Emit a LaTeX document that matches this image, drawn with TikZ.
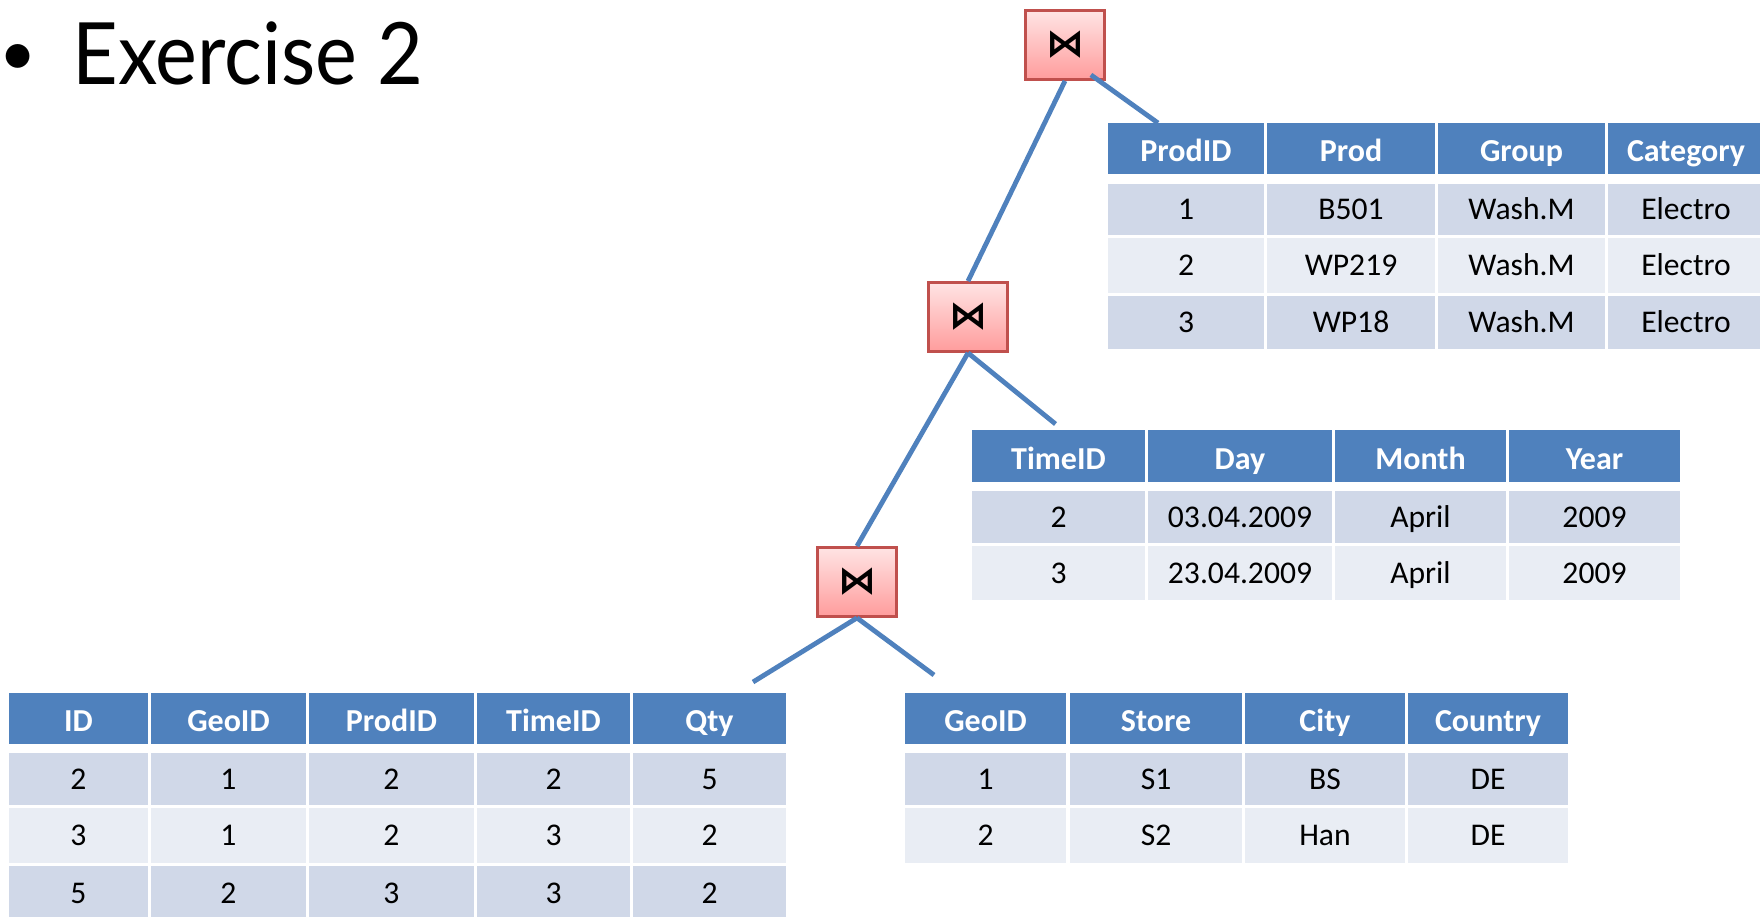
\documentclass[tikz,border=0pt]{standalone}
\usepackage{fontspec}
\setmainfont{Carlito}
\newfontfamily\titlefont[FakeStretch=0.92]{Lato}
\newfontfamily\bulletfont{Lato}
\newfontfamily\symfont{DejaVu Sans}
\usetikzlibrary{calc}
\definecolor{hdrblue}{HTML}{4F81BD}
\definecolor{rowdark}{HTML}{D0D8E8}
\definecolor{rowlight}{HTML}{E9EDF4}
\definecolor{joinborder}{HTML}{C0504D}
\definecolor{jointop}{HTML}{FFE4E4}
\definecolor{joinbot}{HTML}{FF9C9C}
\definecolor{linkblue}{HTML}{4F81BD}
\newcommand{\mkcell}[7]{%
  \node[#2, minimum width={(#4-#3)*0.5pt}, minimum height={(#6-#5)*0.5pt}] (#1) at ({(#3+#4)/2},{(#5+#6)/2}) {#7};}
\tikzset{
  cellbase/.style={rectangle, inner sep=0pt, outer sep=0pt, text depth=0pt, align=center},
  hdr/.style={cellbase, fill=hdrblue, text=white, text height=13.3pt, font=\fontsize{16pt}{19pt}\selectfont\bfseries},
  rowa/.style={cellbase, fill=rowdark, text=black, text height=10.2pt, font=\fontsize{15.8pt}{19pt}\selectfont},
  rowb/.style={cellbase, fill=rowlight, text=black, text height=10.2pt, font=\fontsize{15.8pt}{19pt}\selectfont},
  joinbox/.style={rectangle, draw=joinborder, line width=1.4pt, top color=jointop, bottom color=joinbot,
    minimum width=39.5pt, minimum height=34.5pt, inner sep=0pt, font=\symfont\bfseries\fontsize{19pt}{19pt}\selectfont},
  link/.style={draw=linkblue, line width=2.4pt},
  titletext/.style={inner sep=0pt, font=\titlefont\fontsize{43pt}{50pt}\selectfont},
  bullettext/.style={inner sep=0pt, font=\bulletfont\fontsize{32pt}{40pt}\selectfont}
}
\begin{document}
\begin{tikzpicture}[x=0.5pt, y=-0.5pt]
\useasboundingbox (0,0) rectangle (1760,916);
\fill[white] (0,0) rectangle (1760,916);
\clip (0,0) rectangle (1760,916);

% title
\node[bullettext, anchor=base] (bullet) at (18,75) {•};
\node[titletext, anchor=base west] (title) at (72,84) {Exercise 2};

% Prod table
\mkcell{p-h1}{hdr}{1108}{1264}{123}{174}{ProdID}
\mkcell{p-h2}{hdr}{1267}{1435}{123}{174}{Prod}
\mkcell{p-h3}{hdr}{1438}{1605}{123}{174}{Group}
\mkcell{p-h4}{hdr}{1608}{1764}{123}{174}{Category}
\mkcell{p-11}{rowa}{1108}{1264}{184}{235}{1}
\mkcell{p-12}{rowa}{1267}{1435}{184}{235}{B501}
\mkcell{p-13}{rowa}{1438}{1605}{184}{235}{Wash.M}
\mkcell{p-14}{rowa}{1608}{1764}{184}{235}{Electro}
\mkcell{p-21}{rowb}{1108}{1264}{238}{293}{2}
\mkcell{p-22}{rowb}{1267}{1435}{238}{293}{WP219}
\mkcell{p-23}{rowb}{1438}{1605}{238}{293}{Wash.M}
\mkcell{p-24}{rowb}{1608}{1764}{238}{293}{Electro}
\mkcell{p-31}{rowa}{1108}{1264}{296}{349}{3}
\mkcell{p-32}{rowa}{1267}{1435}{296}{349}{WP18}
\mkcell{p-33}{rowa}{1438}{1605}{296}{349}{Wash.M}
\mkcell{p-34}{rowa}{1608}{1764}{296}{349}{Electro}

% Time table
\mkcell{t-h1}{hdr}{972}{1145}{430}{482}{TimeID}
\mkcell{t-h2}{hdr}{1148}{1332}{430}{482}{Day}
\mkcell{t-h3}{hdr}{1335}{1506}{430}{482}{Month}
\mkcell{t-h4}{hdr}{1509}{1680}{430}{482}{Year}
\mkcell{t-11}{rowa}{972}{1145}{491}{543}{2}
\mkcell{t-12}{rowa}{1148}{1332}{491}{543}{03.04.2009}
\mkcell{t-13}{rowa}{1335}{1506}{491}{543}{April}
\mkcell{t-14}{rowa}{1509}{1680}{491}{543}{2009}
\mkcell{t-21}{rowb}{972}{1145}{546}{600}{3}
\mkcell{t-22}{rowb}{1148}{1332}{546}{600}{23.04.2009}
\mkcell{t-23}{rowb}{1335}{1506}{546}{600}{April}
\mkcell{t-24}{rowb}{1509}{1680}{546}{600}{2009}

% Geo table
\mkcell{g-h1}{hdr}{905}{1066}{693}{744}{GeoID}
\mkcell{g-h2}{hdr}{1070}{1242}{693}{744}{Store}
\mkcell{g-h3}{hdr}{1245}{1405}{693}{744}{City}
\mkcell{g-h4}{hdr}{1408}{1568}{693}{744}{Country}
\mkcell{g-11}{rowa}{905}{1066}{753}{805}{1}
\mkcell{g-12}{rowa}{1070}{1242}{753}{805}{S1}
\mkcell{g-13}{rowa}{1245}{1405}{753}{805}{BS}
\mkcell{g-14}{rowa}{1408}{1568}{753}{805}{DE}
\mkcell{g-21}{rowb}{905}{1066}{808}{863}{2}
\mkcell{g-22}{rowb}{1070}{1242}{808}{863}{S2}
\mkcell{g-23}{rowb}{1245}{1405}{808}{863}{Han}
\mkcell{g-24}{rowb}{1408}{1568}{808}{863}{DE}

% Fact table
\mkcell{f-h1}{hdr}{9}{148}{693}{744}{ID}
\mkcell{f-h2}{hdr}{151}{306}{693}{744}{GeoID}
\mkcell{f-h3}{hdr}{309}{474}{693}{744}{ProdID}
\mkcell{f-h4}{hdr}{477}{630}{693}{744}{TimeID}
\mkcell{f-h5}{hdr}{633}{786}{693}{744}{Qty}
\mkcell{f-11}{rowa}{9}{148}{753}{805}{2}
\mkcell{f-12}{rowa}{151}{306}{753}{805}{1}
\mkcell{f-13}{rowa}{309}{474}{753}{805}{2}
\mkcell{f-14}{rowa}{477}{630}{753}{805}{2}
\mkcell{f-15}{rowa}{633}{786}{753}{805}{5}
\mkcell{f-21}{rowb}{9}{148}{808}{863}{3}
\mkcell{f-22}{rowb}{151}{306}{808}{863}{1}
\mkcell{f-23}{rowb}{309}{474}{808}{863}{2}
\mkcell{f-24}{rowb}{477}{630}{808}{863}{3}
\mkcell{f-25}{rowb}{633}{786}{808}{863}{2}
\mkcell{f-31}{rowa}{9}{148}{866}{920}{5}
\mkcell{f-32}{rowa}{151}{306}{866}{920}{2}
\mkcell{f-33}{rowa}{309}{474}{866}{920}{3}
\mkcell{f-34}{rowa}{477}{630}{866}{920}{3}
\mkcell{f-35}{rowa}{633}{786}{866}{920}{2}

% join operators
\node[joinbox] (jtop) at (1065,45) {⋈};
\node[joinbox] (jmid) at (968,317) {⋈};
\node[joinbox] (jbot) at (857,582) {⋈};

% connectors
\draw[link] (jtop.south) -- (jmid.north);
\draw[link] ($(jtop.south east)+(-15,-6)$) -- ($(p-h1.north west)+(50,0)$);
\draw[link] (jmid.south) -- (jbot.north);
\draw[link] (jmid.south) -- ($(t-h1.north)+(-3,-6)$);
\draw[link] (jbot.south) -- ($(f-h5.north west)+(120,-11)$);
\draw[link] (jbot.south) -- ($(g-h1.north west)+(29,-18)$);
\end{tikzpicture}
\end{document}
